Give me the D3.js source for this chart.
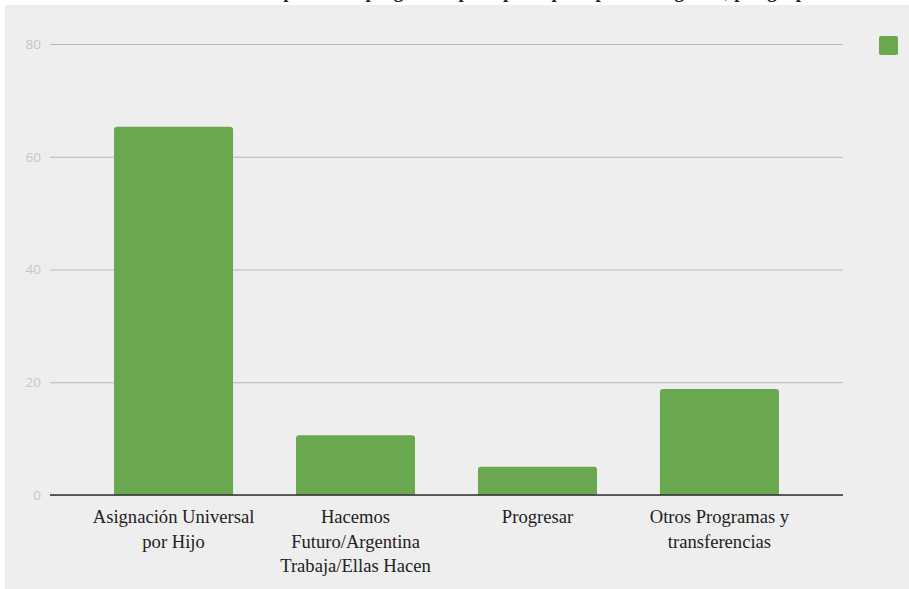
<!DOCTYPE html>
<html>
<head>
<meta charset="utf-8">
<script src="https://cdn.jsdelivr.net/npm/d3@7"></script>
<style>
  html, body { margin: 0; padding: 0; background: #ffffff; }
  svg { display: block; }
  .serif { font-family: "Liberation Serif", "DejaVu Serif", serif; }
  .sans { font-family: "Open Sans", "Liberation Sans", sans-serif; }
</style>
</head>
<body>
<div id="chart"></div>
<script>
const title = "Participación en programas por tipo de perceptor de ingresos, por grupo";
const categories = [
  ["Asignación Universal", "por Hijo"],
  ["Hacemos", "Futuro/Argentina", "Trabaja/Ellas Hacen"],
  ["Progresar"],
  ["Otros Programas y", "transferencias"]
];
const values = [65.3, 10.6, 5.0, 18.8];
const yTicks = [0, 20, 40, 60, 80];

(function () {
const W = 909, H = 589;
const svg = d3.select("#chart").append("svg").attr("width", W).attr("height", H);

svg.append("rect").attr("x", 5).attr("y", 5).attr("width", W - 5).attr("height", H - 5).attr("fill", "#eeeeee");

const pl = 50, pr = 843, pt = 44, pb = 495;
const x = d3.scaleBand().domain(d3.range(categories.length)).range([pl, pr])
  .paddingInner(0.346).paddingOuter(0.352);
const y = d3.scaleLinear().domain([0, 80]).range([pb, pt]);

// title (mostly clipped above the view, as in the reference)
svg.append("text").attr("class", "serif").attr("x", 522).attr("y", -2.5).attr("text-anchor", "middle")
  .attr("font-weight", "bold").attr("font-size", 19).attr("fill", "#222").text(title);

// grid + y labels
const yAxis = d3.axisLeft(y).tickValues(yTicks).tickSize(-(pr - pl)).tickPadding(9).tickFormat(d3.format("d"));
const gy = svg.append("g").attr("transform", `translate(${pl},0)`).call(yAxis);
gy.select(".domain").remove();
gy.attr("font-family", null);
gy.selectAll(".tick line").attr("stroke", "#b7b7b7").attr("stroke-width", 1);
gy.selectAll(".tick text").attr("class", "sans").attr("fill", "#c6c6c6").attr("font-size", 13.5);

// bars with rounded top
const r = 3;
svg.append("g").selectAll("path").data(values).join("path")
  .attr("fill", "#6aa84f")
  .attr("d", (d, i) => {
    const x0 = x(i), w = x.bandwidth(), yt = y(d), yb = y(0);
    return `M${x0},${yb}V${yt + r}Q${x0},${yt} ${x0 + r},${yt}H${x0 + w - r}Q${x0 + w},${yt} ${x0 + w},${yt + r}V${yb}Z`;
  });

// baseline
svg.append("line").attr("x1", pl).attr("x2", pr).attr("y1", y(0)).attr("y2", y(0))
  .attr("stroke", "#333").attr("stroke-width", 1.5);

// x labels
const xl = svg.append("g").selectAll("text").data(categories).join("text")
  .attr("class", "serif").attr("text-anchor", "middle")
  .attr("font-size", 18.6).attr("fill", "#222");
xl.each(function(lines, i) {
  const t = d3.select(this);
  lines.forEach((ln, j) => {
    t.append("tspan").attr("x", x(i) + x.bandwidth() / 2).attr("y", 523 + j * 24.5).text(ln);
  });
});

// legend swatch
svg.append("rect").attr("x", 879).attr("y", 36).attr("width", 19).attr("height", 19)
  .attr("rx", 2).attr("fill", "#6aa84f");
})();
</script>
</body>
</html>
